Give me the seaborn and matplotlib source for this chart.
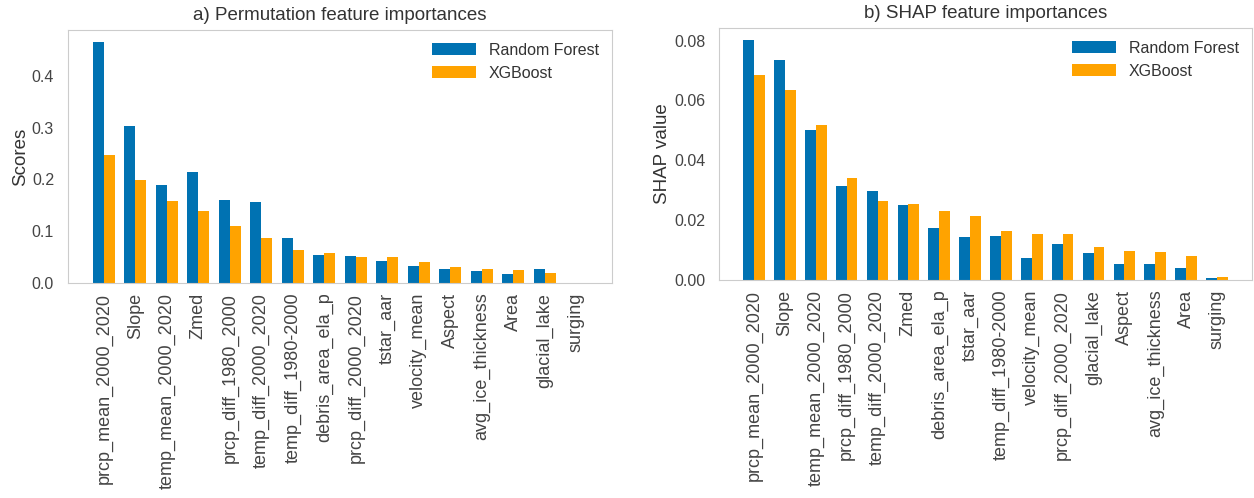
import matplotlib
matplotlib.use("Agg")
import matplotlib.pyplot as plt
import seaborn as sns
import pandas as pd

# Permutation importances
perm_features = ["prcp_mean_2000_2020", "Slope", "temp_mean_2000_2020", "Zmed",
                 "prcp_diff_1980_2000", "temp_diff_2000_2020", "temp_diff_1980-2000",
                 "debris_area_ela_p", "prcp_diff_2000_2020", "tstar_aar", "velocity_mean",
                 "Aspect", "avg_ice_thickness", "Area", "glacial_lake", "surging"]
perm_rf = [0.465, 0.303, 0.189, 0.214, 0.161, 0.157, 0.086, 0.054,
           0.053, 0.043, 0.032, 0.028, 0.023, 0.017, 0.028, 0.0]
perm_xgb = [0.248, 0.199, 0.158, 0.139, 0.110, 0.087, 0.064, 0.058,
            0.051, 0.051, 0.041, 0.030, 0.028, 0.025, 0.020, 0.0]

# SHAP importances
shap_features = ["prcp_mean_2000_2020", "Slope", "temp_mean_2000_2020", "prcp_diff_1980_2000",
                 "temp_diff_2000_2020", "Zmed", "debris_area_ela_p", "tstar_aar",
                 "temp_diff_1980-2000", "velocity_mean", "prcp_diff_2000_2020", "glacial_lake",
                 "Aspect", "avg_ice_thickness", "Area", "surging"]
shap_rf = [0.0802, 0.0735, 0.0500, 0.0315, 0.0296, 0.0250, 0.0173, 0.0144,
           0.0148, 0.0072, 0.0121, 0.0089, 0.0052, 0.0053, 0.0040, 0.0007]
shap_xgb = [0.0686, 0.0634, 0.0517, 0.0342, 0.0263, 0.0253, 0.0230, 0.0215,
            0.0164, 0.0155, 0.0153, 0.0109, 0.0098, 0.0094, 0.0080, 0.0011]

models = ["Random Forest", "XGBoost"]
colors = ["#0072B2", "#FFA300"]


def long_frame(features, rf, xgb):
    return pd.DataFrame({
        "feature": features * 2,
        "value": rf + xgb,
        "model": [models[0]] * len(features) + [models[1]] * len(features),
    })


sns.set_style("whitegrid", {"axes.grid": False, "axes.edgecolor": "#cccccc",
                            "axes.linewidth": 1.3})
plt.rcParams["font.family"] = ["Liberation Sans", "DejaVu Sans"]
plt.rcParams["text.color"] = "#333333"
plt.rcParams["axes.labelcolor"] = "#333333"
plt.rcParams["xtick.color"] = "#444444"
plt.rcParams["ytick.color"] = "#444444"

fig = plt.figure(figsize=(12.54, 4.98), dpi=100)
ax1 = fig.add_axes([0.0542, 0.4317, 0.4338, 0.508])
ax2 = fig.add_axes([0.5734, 0.4378, 0.4250, 0.506])

panels = [
    (ax1, perm_features, perm_rf, perm_xgb, "a) Permutation feature importances", "Scores"),
    (ax2, shap_features, shap_rf, shap_xgb, "b) SHAP feature importances", "SHAP value"),
]

for ax, feats, rf, xgb, title, ylabel in panels:
    df = long_frame(feats, rf, xgb)
    sns.barplot(data=df, x="feature", y="value", hue="model", order=feats,
                hue_order=models, palette=colors, width=0.7, errorbar=None,
                saturation=1, linewidth=0, ax=ax)
    n = len(feats)
    lo, hi = -0.35, n - 1 + 0.35
    pad = 0.05 * (hi - lo)
    ax.set_xlim(lo - pad, hi + pad)
    top = max(max(rf), max(xgb))
    ax.set_ylim(0, top * 1.05)
    ax.set_title(title, fontsize=13.5, pad=7)
    ax.set_xlabel("")
    ax.set_ylabel(ylabel, fontsize=13.5, labelpad=2)
    ax.tick_params(axis="x", labelrotation=90, labelsize=13, length=0, pad=7)
    ax.tick_params(axis="y", labelsize=11.5, length=0, pad=10)
    ax.legend(loc="upper right", frameon=False, fontsize=11.5,
              handlelength=2.8, handleheight=0.8, borderaxespad=0.4)

fig.savefig("out.png", dpi=100)
